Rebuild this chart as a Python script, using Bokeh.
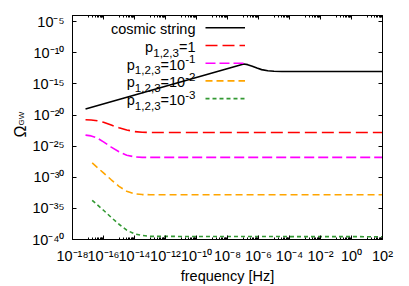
import numpy as np
from bokeh.plotting import figure
from bokeh.models import (FixedTicker, CustomJSTickFormatter, LogAxis, Label, Arrow)
from bokeh.embed import file_html
from bokeh.resources import INLINE

# ---------------- data (log10 of frequency [Hz], log10 of Omega_GW) -------------
cs_logf = [-17.16, -6.95, -6.7, -6.4, -6.1, -5.8, -5.4, -5.0, -4.5, 2.0]
cs_logO = [-19.04, -11.8, -11.9, -12.15, -12.45, -12.7, -12.88, -12.96, -13.0, -13.0]

p1_logf = [-17.16, -16.8, -16.4, -16.0, -15.5, -15.0, -14.5, -14.0, -13.5, -13.0, 2.0]
p1_logO = [-20.76, -20.8, -20.92, -21.15, -21.6, -22.05, -22.4, -22.65, -22.77, -22.8, -22.8]

p01_logf = [-17.16, -16.8, -16.4, -16.0, -15.5, -15.0, -14.5, -14.0, -13.5, 2.0]
p01_logO = [-23.22, -23.35, -23.7, -24.3, -25.15, -25.9, -26.45, -26.72, -26.8, -26.8]

p001_logf = [-16.73, -16.0, -15.5, -15.0, -14.5, -14.0, -13.5, -13.0, 2.0]
p001_logO = [-27.7, -29.3, -30.4, -31.45, -32.25, -32.65, -32.78, -32.8, -32.8]

p0001_logf = [-16.73, -16.0, -15.5, -15.0, -14.5, -14.0, -13.5, -13.0, 2.0]
p0001_logO = [-33.7, -35.3, -36.45, -37.55, -38.5, -39.1, -39.35, -39.5, -39.55]

x_tick_exps = [-18, -16, -14, -12, -10, -8, -6, -4, -2, 0, 2]
y_tick_exps = [-40, -35, -30, -25, -20, -15, -10, -5]

legend_names = ["cosmic string", "p", "p", "p", "p"]
legend_sub = [None, "1,2,3", "1,2,3", "1,2,3", "1,2,3"]
legend_base = [None, "=1", "=10", "=10", "=10"]
legend_sup = [None, None, "-1", "-2", "-3"]

# ---------------- styles ----------------
FONT = "Liberation Sans"
BIG = 14.5
SMALL = 11.6
colors = ["black", "#ff0000", "#ff00ff", "#ffa500", "#339933"]
dashes = ["solid", "12 5", "10 4", "7 4", "4 3"]
LW = 1.6

ARIAL = {c: 0.556 for c in "0123456789p"}
ARIAL.update({"-": 0.333, "=": 0.584, ",": 0.278})
SUP = str.maketrans("-0123456789", "⁻⁰¹²³⁴⁵⁶⁷⁸⁹")


def tw(s, px):
    return sum(ARIAL.get(c, 0.556) for c in s) * px


def pow10_label(e):
    return "10" + str(e).translate(SUP)


W, H = 409, 286
FL, FR, FT, FB = 72, 27, 15, 47
p = figure(width=W, height=H, x_axis_type="log", y_axis_type="log",
           x_range=(1e-18, 1e2), y_range=(1e-40, 1e-4),
           output_backend="svg", toolbar_location=None,
           min_border_left=FL, min_border_right=FR,
           min_border_top=FT, min_border_bottom=FB)
p.xgrid.visible = False
p.ygrid.visible = False
p.outline_line_color = "black"
p.background_fill_color = "white"
p.border_fill_color = "white"

x_ticks = [10.0 ** e for e in x_tick_exps]
x_minor = [k * 10.0 ** n for n in range(-17, 2, 2) for k in range(1, 10)]
y_ticks = [10.0 ** e for e in y_tick_exps]
x_labels = [pow10_label(e) for e in x_tick_exps]
y_labels = [pow10_label(e) for e in y_tick_exps]


def style_axis(ax, ticks, minor, labels, standoff):
    ax.ticker = FixedTicker(ticks=ticks, minor_ticks=minor)
    if labels is None:
        ax.formatter = CustomJSTickFormatter(code="return ''")
        ax.major_label_text_font_size = "1px"
    else:
        ax.formatter = CustomJSTickFormatter(args=dict(labels=labels),
                                             code="return labels[index]")
        ax.major_label_text_font = FONT
        ax.major_label_text_font_size = f"{BIG}px"
        ax.major_label_text_color = "black"
    ax.major_tick_in = 4
    ax.major_tick_out = 0
    ax.minor_tick_in = 2
    ax.minor_tick_out = 0
    ax.axis_line_color = "black"
    ax.major_tick_line_color = "black"
    ax.minor_tick_line_color = "black"
    ax.major_label_standoff = standoff
    ax.axis_label = None


style_axis(p.xaxis[0], x_ticks, x_minor, x_labels, 8)
style_axis(p.yaxis[0], y_ticks, [], y_labels, 8)
top = LogAxis()
style_axis(top, x_ticks, x_minor, None, 0)
p.add_layout(top, "above")
right = LogAxis()
style_axis(right, y_ticks, [], None, 0)
p.add_layout(right, "right")

# ---------------- curves ----------------
series = [(cs_logf, cs_logO), (p1_logf, p1_logO), (p01_logf, p01_logO),
          (p001_logf, p001_logO), (p0001_logf, p0001_logO)]
for (lf, lo), c, d in zip(series, colors, dashes):
    p.line(x=10.0 ** np.array(lf), y=10.0 ** np.array(lo), line_color=c,
           line_width=LW, line_dash=d)

# ---------------- axis titles (side panels, canvas coordinates) ----------------
p.add_layout(Label(x=227, y=275, x_units="canvas", y_units="canvas",
                   text="frequency [Hz]", text_align="center", text_baseline="middle",
                   text_font=FONT, text_font_size=f"{BIG}px", text_color="black"),
             "below")
p.add_layout(Label(x=19.5, y=131, x_units="canvas", y_units="canvas",
                   text="Ω", angle=np.pi / 2, text_align="center",
                   text_baseline="middle", text_font=FONT, text_font_size="16px",
                   text_color="black"), "left")
p.add_layout(Label(x=21, y=118, x_units="canvas", y_units="canvas",
                   text="GW", angle=np.pi / 2, text_align="center",
                   text_baseline="middle", text_font=FONT, text_font_size="8px",
                   text_color="black"), "above")

# ---------------- legend (label right-aligned, sample line to the right) -------
ROW0 = 211.7
ROWSTEP = 17.7
TEXT_RIGHT = 123
for i in range(5):
    sy = ROW0 - ROWSTEP * i
    p.add_layout(Arrow(x_start=133, x_end=172.5, y_start=sy, y_end=sy,
                       start_units="screen", end_units="screen", end=None,
                       line_color=colors[i], line_width=LW, line_dash=dashes[i]))
    pieces = [(legend_names[i], BIG, -1.5)]
    if legend_sub[i]:
        pieces.append((legend_sub[i], SMALL, -7.0))
    if legend_base[i]:
        pieces.append((legend_base[i], BIG, -1.5))
    if legend_sup[i]:
        pieces.append((legend_sup[i], SMALL, 4.0))
    xr = TEXT_RIGHT
    for txt, size, dy in reversed(pieces):
        p.add_layout(Label(x=xr, y=sy + dy, x_units="screen", y_units="screen",
                           text=txt, text_align="right", text_baseline="middle",
                           text_font=FONT, text_font_size=f"{size}px",
                           text_color="black"))
        xr -= tw(txt, size)

open("out.html", "w").write(file_html(p, INLINE))
